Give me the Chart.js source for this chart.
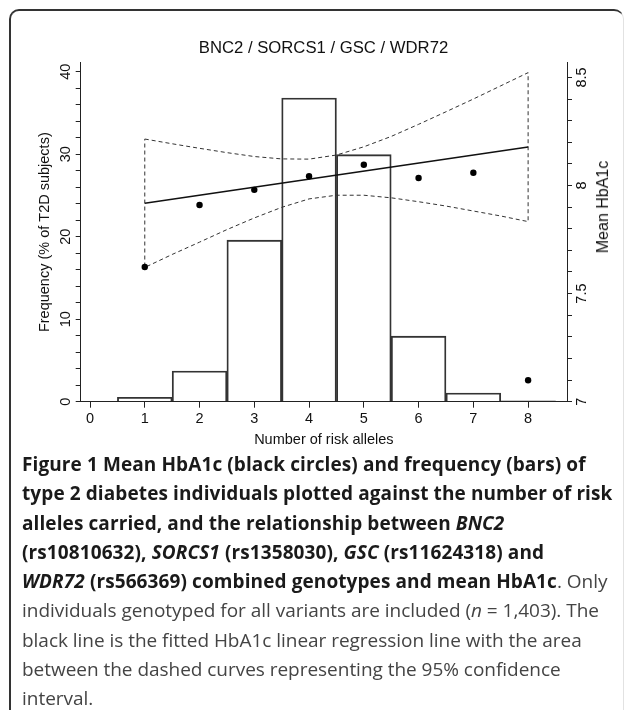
<!DOCTYPE html>
<html lang="en">
<head>
<meta charset="UTF-8" />
<title>BNC2 / SORCS1 / GSC / WDR72</title>
<script src="https://cdn.jsdelivr.net/npm/chart.js@4.4.1/dist/chart.umd.min.js"></script>
<style>
  html, body { margin: 0; padding: 0; background: #fff; }
  body { width: 627px; height: 710px; position: relative; overflow: hidden; }
  /* outer figure frame: rounded top, dark left edge */
  #frame { position: absolute; left: 9px; top: 9px; width: 612px; height: 740px;
           border-top: 2px solid #333; border-left: 2px solid #333; border-right: 1px solid #e2e2e2;
           border-radius: 10px 10px 0 0; }
  #plot { position: absolute; left: 0; top: 0; width: 627px; height: 452px; }
  #rightTitle { position: absolute; left: 603px; top: 207px; white-space: nowrap;
                font-family: "Liberation Sans", Arial, sans-serif; font-size: 16px; color: #111;
                transform: translate(-50%, -50%) rotate(-90deg); }
  #caption { position: absolute; left: 22px; top: 450px; white-space: nowrap;
             font-family: "Open Sans", "Noto Sans", sans-serif; font-size: 19px; line-height: 29.3px;
             color: #444; letter-spacing: -0.03px; }
  #caption b { color: #1a1a1a; letter-spacing: 0.1px; }
</style>
</head>
<body>
<div id="frame"></div>
<div id="plot"><canvas id="chart"></canvas></div>
<div id="rightTitle">Mean HbA1c</div>
<div id="caption">
  <b>Figure 1 Mean HbA1c (black circles) and frequency (bars) of</b><br>
  <b>type 2 diabetes individuals plotted against the number of risk</b><br>
  <b>alleles carried, and the relationship between <i>BNC2</i></b><br>
  <b>(rs10810632), <i>SORCS1</i> (rs1358030), <i>GSC</i> (rs11624318) and</b><br>
  <b><i>WDR72</i> (rs566369) combined genotypes and mean HbA1c</b>. Only<br>
  individuals genotyped for all variants are included (<i>n</i> = 1,403). The<br>
  black line is the fitted HbA1c linear regression line with the area<br>
  between the dashed curves representing the 95% confidence<br>
  interval.
</div>
<script>
  // number of risk alleles and the two measured series
  var alleles = [1, 2, 3, 4, 5, 6, 7, 8];
  var freqPct = [0.53, 3.72, 19.58, 36.8, 29.95, 7.95, 1.05, 0.12];
  var meanHbA1c = [7.623, 7.91, 7.98, 8.043, 8.096, 8.035, 8.059, 7.099];

  // fitted regression line (end points)
  var fitX = [1, 8];
  var fitY = [7.918, 8.178];

  // 95% confidence band
  var ciX = [1, 1.5, 2, 2.5, 3, 3.5, 4, 4.5, 5, 5.5, 6, 6.5, 7, 7.5, 8];
  var ciUpper = [8.215, 8.193, 8.172, 8.152, 8.134, 8.123, 8.122, 8.141, 8.179, 8.227, 8.283, 8.341, 8.400, 8.461, 8.522];
  var ciLower = [7.621, 7.681, 7.738, 7.796, 7.850, 7.899, 7.938, 7.955, 7.955, 7.943, 7.925, 7.905, 7.882, 7.859, 7.833];

  // ticks
  var xTicks = [0, 1, 2, 3, 4, 5, 6, 7, 8];
  var freqTicks = [0, 2, 4, 6, 8, 10, 12, 14, 16, 18, 20, 22, 24, 26, 28, 30, 32, 34, 36, 38, 40];
  var freqLabels = [0, 10, 20, 30, 40];
  var hbTicks = [7, 7.1, 7.2, 7.3, 7.4, 7.5, 7.6, 7.7, 7.8, 7.9, 8, 8.1, 8.2, 8.3, 8.4, 8.5];
  var hbLabels = [7, 7.5, 8, 8.5];

  Chart.defaults.font.family = "'Liberation Sans', Arial, sans-serif";
  Chart.defaults.color = '#111';

  var ink = '#222';
  var axisFont = { size: 14.5 };

  var bars = alleles.map(function (a, i) { return { x: a, y: freqPct[i] }; });
  var dots = alleles.map(function (a, i) { return { x: a, y: meanHbA1c[i] }; });
  var fit = fitX.map(function (a, i) { return { x: a, y: fitY[i] }; });
  // closed outline: upper curve left->right, lower curve right->left, back to start
  var band = ciX.map(function (a, i) { return { x: a, y: ciUpper[i] }; })
    .concat(ciX.slice().reverse().map(function (a, i) { return { x: a, y: ciLower[ciLower.length - 1 - i] }; }));
  band.push({ x: ciX[0], y: ciUpper[0] });

  function near(list, v) {
    return list.some(function (t) { return Math.abs(t - v) < 1e-6; });
  }

  new Chart(document.getElementById('chart'), {
    type: 'bar',
    data: {
      datasets: [
        { type: 'scatter', data: dots, yAxisID: 'y1', pointRadius: 3.2, pointBorderWidth: 0,
          pointBackgroundColor: '#000' },
        { type: 'line', data: fit, yAxisID: 'y1', borderColor: '#111', borderWidth: 1.7,
          pointRadius: 0, fill: false },
        { type: 'line', data: band, yAxisID: 'y1', borderColor: '#333', borderWidth: 1,
          borderDash: [4, 3], pointRadius: 0, fill: false },
        { type: 'bar', data: bars, yAxisID: 'y', backgroundColor: 'rgba(255,255,255,0)',
          borderColor: '#333', borderWidth: 1.2, barPercentage: 1, categoryPercentage: 1 }
      ]
    },
    options: {
      responsive: true,
      maintainAspectRatio: false,
      animation: false,
      events: [],
      layout: { padding: { left: 20, right: 0, top: 0, bottom: 0 } },
      plugins: {
        legend: { display: false },
        tooltip: { enabled: false },
        title: {
          display: true,
          text: 'BNC2 / SORCS1 / GSC / WDR72',
          font: { size: 16.7, weight: 'normal' },
          color: '#111',
          padding: { top: 38, bottom: 4.66 }
        }
      },
      scales: {
        x: {
          type: 'linear',
          min: -0.17,
          max: 8.71,
          offset: false,
          afterBuildTicks: function (s) { s.ticks = xTicks.map(function (v) { return { value: v }; }); },
          afterFit: function (s) { s.height = 50.3; },
          ticks: { font: axisFont, color: '#111', padding: 3, maxRotation: 0, autoSkip: false,
                   callback: function (v) { return String(v); } },
          grid: { display: true, offset: false, drawOnChartArea: false, drawTicks: true, tickLength: 6, color: ink },
          border: { display: true, color: ink, width: 1 },
          title: { display: true, text: 'Number of risk alleles', font: axisFont, color: '#111',
                   padding: { top: 0, bottom: 3.3 } }
        },
        y: {
          position: 'left',
          min: 0,
          max: 41.09,
          beginAtZero: false,
          afterBuildTicks: function (s) { s.ticks = freqTicks.map(function (v) { return { value: v }; }); },
          afterFit: function (s) { s.width = 60.7; },
          ticks: { font: axisFont, color: '#111', minRotation: 90, maxRotation: 90, crossAlign: 'center',
                   padding: 2, autoSkip: false,
                   callback: function (v) { return near(freqLabels, v) ? String(v) : ''; } },
          grid: { display: true, drawOnChartArea: false, drawTicks: true, tickLength: 5, color: ink },
          border: { display: true, color: ink, width: 1 },
          title: { display: true, text: 'Frequency (% of T2D subjects)', font: axisFont, color: '#111',
                   padding: { top: 16.3, bottom: 0 } }
        },
        y1: {
          position: 'right',
          min: 7,
          max: 8.568,
          beginAtZero: false,
          afterBuildTicks: function (s) { s.ticks = hbTicks.map(function (v) { return { value: v }; }); },
          afterFit: function (s) { s.width = 60; },
          ticks: { font: axisFont, color: '#111', minRotation: 90, maxRotation: 90, crossAlign: 'center',
                   padding: 0, autoSkip: false,
                   callback: function (v) {
                     var hit = hbLabels.filter(function (t) { return Math.abs(t - v) < 1e-6; });
                     return hit.length ? String(hit[0]) : '';
                   } },
          grid: { display: true, drawOnChartArea: false, drawTicks: true, tickLength: 5, color: ink },
          border: { display: true, color: ink, width: 1 }
        }
      }
    }
  });
</script>
</body>
</html>
